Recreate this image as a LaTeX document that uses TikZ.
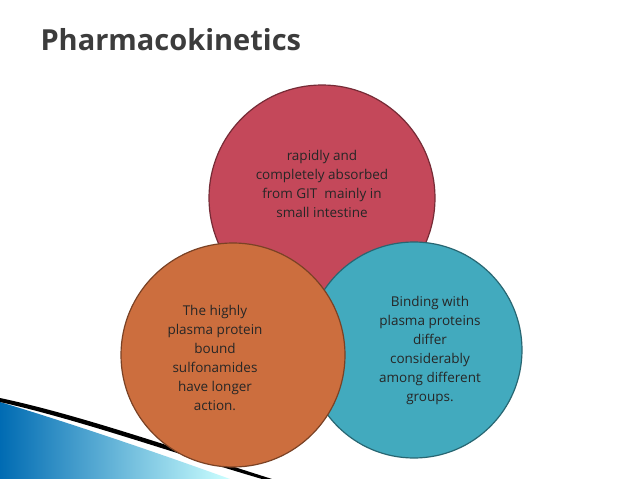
\documentclass[tikz,border=0pt]{standalone}
\usepackage{fontspec}
\setmainfont{Open Sans}
\begin{document}
\begin{tikzpicture}[x=1pt,y=-1pt,
  circ/.style={draw=#1!60!black,line width=1.2pt,fill=#1,inner sep=0pt},
  txt/.style={align=center,font=\fontsize{13.5}{19}\selectfont,text=black!85}]
\definecolor{cred}{RGB}{196,72,90}
\definecolor{corange}{RGB}{204,110,62}
\definecolor{cteal}{RGB}{66,170,190}
\definecolor{ctitle}{RGB}{60,60,60}
\useasboundingbox (0,0) rectangle (638,479);
\fill[white] (0,0) rectangle (638,479);
% bottom-left swoosh
\shade[left color=blue!40!cyan!70!black,right color=cyan!20] (0,402) -- (0,479) -- (230,479) .. controls (150,450) and (60,420) .. (0,402);
\fill[black] (0,398) .. controls (80,415) and (180,450) .. (272,479) -- (262,479) .. controls (170,452) and (80,420) .. (0,402) -- cycle;
\node[anchor=west,text=ctitle,font=\fontsize{29}{34}\selectfont\bfseries] (title) at (37,40) {Pharmacokinetics};
\node[circle,circ=cred,minimum size=226pt] (c1) at (322,198) {};
\node[circle,circ=cteal,minimum size=216pt] (c3) at (414,350) {};
\node[circle,circ=corange,minimum size=224pt] (c2) at (233,355) {};
\node[txt] (t1) at (322,184) {rapidly and\\completely absorbed\\from GIT\ \ mainly in\\small intestine};
\node[txt] (t2) at (215,358) {The highly\\plasma protein\\bound\\sulfonamides\\have longer\\action.};
\node[txt] (t3) at (430,350) {Binding with\\plasma proteins\\differ\\considerably\\among different\\groups.};
\end{tikzpicture}
\end{document}
